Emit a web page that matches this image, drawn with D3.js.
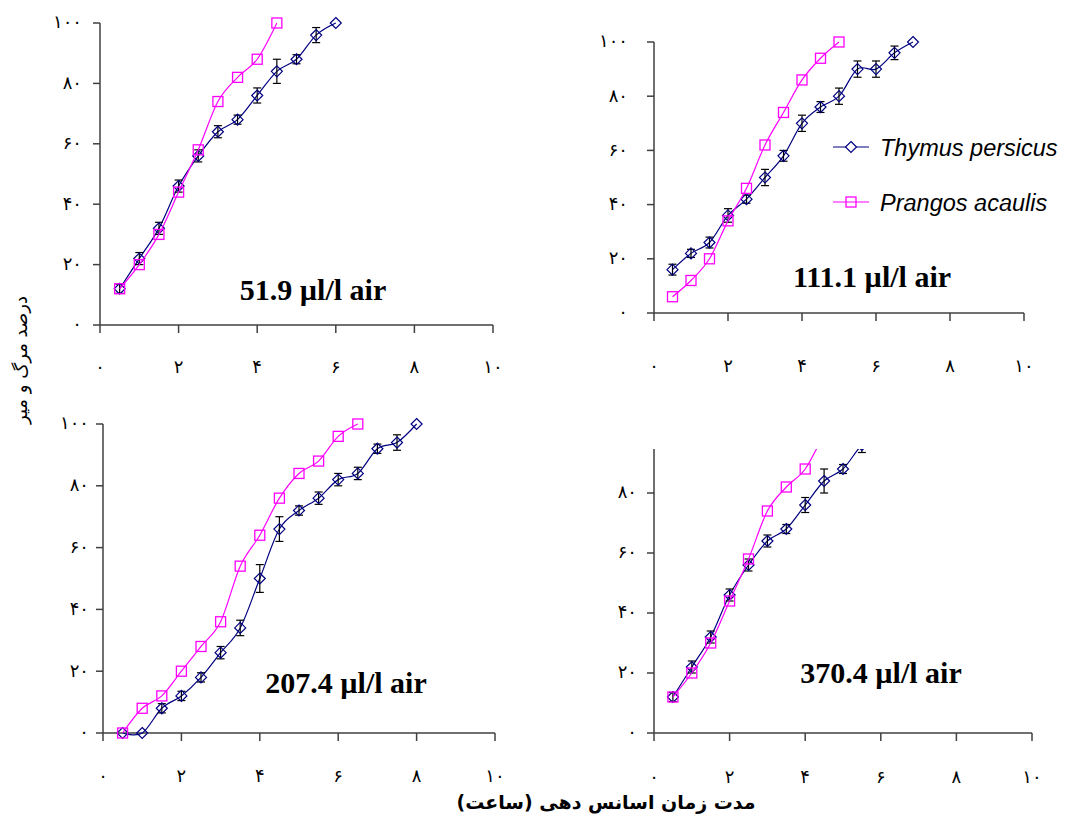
<!DOCTYPE html>
<html>
<head>
<meta charset="utf-8">
<script src="https://cdn.jsdelivr.net/npm/d3@7"></script>
<style>
body { margin: 0; background: #fff; }
svg { display: block; }
</style>
</head>
<body>
<div id="viz"></div>
<script>
// data (hours 0.5, 1, 1.5 ...)
var thymus51 = [12, 22, 32, 46, 56, 64, 68, 76, 84, 88, 96, 100];
var thymus51Err = [1.5, 2, 2, 2, 2, 2, 1.5, 2.5, 4, 1.5, 2.5, 0];
var prangos51 = [12, 20, 30, 44, 58, 74, 82, 88, 100];

var thymus111 = [16, 22, 26, 36, 42, 50, 58, 70, 76, 80, 90, 90, 96, 100];
var thymus111Err = [2, 1.5, 2, 2.5, 1.5, 3, 2, 3, 2, 3, 3, 3, 2.5, 0];
var prangos111 = [6, 12, 20, 34, 46, 62, 74, 86, 94, 100];

var thymus207 = [0, 0, 8, 12, 18, 26, 34, 50, 66, 72, 76, 82, 84, 92, 94, 100];
var thymus207Err = [0, 0, 1.5, 1.5, 1.5, 2, 2.5, 4.5, 4, 1.5, 2, 2, 2, 1.5, 2.5, 0];
var prangos207 = [0, 8, 12, 20, 28, 36, 54, 64, 76, 84, 88, 96, 100];

var thymus370 = [12, 22, 32, 46, 56, 64, 68, 76, 84, 88, 96, 100];
var thymus370Err = [1.5, 2, 2, 2, 2, 2, 1.5, 2.5, 4, 1.5, 2.5, 0];
var prangos370 = [12, 20, 30, 44, 58, 74, 82, 88, 100];

var xTicks = [0, 2, 4, 6, 8, 10];
var yTicks = [0, 20, 40, 60, 80, 100];
var seriesNames = ["Thymus persicus", "Prangos acaulis"];
var panelTitles = ["51.9 µl/l air", "111.1 µl/l air", "207.4 µl/l air", "370.4 µl/l air"];

var thymusColor = "#000080", prangosColor = "#ff00ff";

var svg = d3.select("#viz")
        .append("svg")
        .attr("width", 1085)
        .attr("height", 819);

function fa(n) {
    return String(n).replace(/[0-9]/g, function(c) { return "۰۱۲۳۴۵۶۷۸۹"[+c]; });
}
function withTime(vals, errs) {
    return vals.map(function(v, i) { return {t: 0.5 * (i + 1), v: v, e: errs ? errs[i] : 0}; });
}

var panels = [
    {left: 100, right: 493, top: 23, bottom: 325, clipTop: 8, axisTop: 23, labelY: 368, ylab: 18,
     thymus: withTime(thymus51, thymus51Err), prangos: withTime(prangos51), tx: 313, ty: 300},
    {left: 654, right: 1024, top: 42, bottom: 313, clipTop: 27, axisTop: 42, labelY: 367, ylab: 26,
     thymus: withTime(thymus111, thymus111Err), prangos: withTime(prangos111), tx: 872, ty: 287},
    {left: 103, right: 495, top: 424, bottom: 733, clipTop: 409, axisTop: 424, labelY: 777, ylab: 14,
     thymus: withTime(thymus207, thymus207Err), prangos: withTime(prangos207), tx: 346, ty: 693},
    {left: 654, right: 1032, top: 433, bottom: 733, clipTop: 449, axisTop: 449, labelY: 778, ylab: 17,
     thymus: withTime(thymus370, thymus370Err), prangos: withTime(prangos370), tx: 881, ty: 683}
];

var line = d3.line().curve(d3.curveCatmullRom.alpha(0));

panels.forEach(function(p, k) {
    var x = d3.scaleLinear().domain([0, 10]).range([p.left, p.right]);
    var y = d3.scaleLinear().domain([0, 100]).range([p.bottom, p.top]);
    var g = svg.append("g");
    var ax = "#404040";

    // y axis
    g.append("line").attr("x1", p.left).attr("x2", p.left)
        .attr("y1", p.axisTop).attr("y2", p.bottom)
        .attr("stroke", ax).attr("stroke-width", 1.5);
    var yt = yTicks.filter(function(d) { return y(d) >= p.axisTop - 0.5; });
    g.selectAll(".yt").data(yt).enter().append("line")
        .attr("x1", p.left - 7).attr("x2", p.left)
        .attr("y1", function(d) { return y(d); }).attr("y2", function(d) { return y(d); })
        .attr("stroke", ax).attr("stroke-width", 1.5);
    g.selectAll(".yl").data(yt).enter().append("text")
        .attr("x", p.left - p.ylab).attr("y", function(d) { return y(d); })
        .attr("dy", "0.3em").attr("text-anchor", "end")
        .style("font-family", "DejaVu Sans").style("font-size", "18px")
        .style("letter-spacing", "2px")
        .text(function(d) { return fa(d); });

    // x axis
    g.append("line").attr("x1", p.left).attr("x2", p.right)
        .attr("y1", p.bottom).attr("y2", p.bottom)
        .attr("stroke", ax).attr("stroke-width", 1.5);
    g.selectAll(".xt").data(xTicks).enter().append("line")
        .attr("x1", function(d) { return x(d); }).attr("x2", function(d) { return x(d); })
        .attr("y1", p.bottom).attr("y2", p.bottom + 8)
        .attr("stroke", ax).attr("stroke-width", 1.5);
    g.selectAll(".xl").data(xTicks).enter().append("text")
        .attr("x", function(d) { return x(d); }).attr("y", p.labelY)
        .attr("dy", "0.3em").attr("text-anchor", "middle")
        .style("font-family", "DejaVu Sans").style("font-size", "18px")
        .style("letter-spacing", "2px")
        .text(function(d) { return fa(d); });

    var clipId = "clip" + k;
    svg.append("clipPath").attr("id", clipId).append("rect")
        .attr("x", p.left - 10).attr("y", p.clipTop)
        .attr("width", p.right - p.left + 20).attr("height", p.bottom - p.clipTop + 20);
    var plot = g.append("g").attr("clip-path", "url(#" + clipId + ")");

    // Thymus: line, error bars, diamonds
    plot.append("path")
        .attr("d", line(p.thymus.map(function(d) { return [x(d.t), y(d.v)]; })))
        .attr("fill", "none").attr("stroke", thymusColor).attr("stroke-width", 1.2);
    var eb = plot.selectAll(".eb").data(p.thymus.filter(function(d) { return d.e > 0; }))
        .enter().append("g");
    eb.append("line")
        .attr("x1", function(d) { return x(d.t); }).attr("x2", function(d) { return x(d.t); })
        .attr("y1", function(d) { return y(d.v - d.e); }).attr("y2", function(d) { return y(d.v + d.e); })
        .attr("stroke", "#000").attr("stroke-width", 1.2);
    [-1, 1].forEach(function(s) {
        eb.append("line")
            .attr("x1", function(d) { return x(d.t) - 4; }).attr("x2", function(d) { return x(d.t) + 4; })
            .attr("y1", function(d) { return y(d.v + s * d.e); }).attr("y2", function(d) { return y(d.v + s * d.e); })
            .attr("stroke", "#000").attr("stroke-width", 1.2);
    });
    plot.selectAll(".dm").data(p.thymus).enter().append("path")
        .attr("d", function(d) {
            var cx = x(d.t), cy = y(d.v), r = 5.5;
            return "M" + cx + "," + (cy - r) + "L" + (cx + r) + "," + cy + "L" + cx + "," + (cy + r) + "L" + (cx - r) + "," + cy + "Z";
        })
        .attr("fill", "none").attr("stroke", thymusColor).attr("stroke-width", 1.2);

    // Prangos: line, squares
    plot.append("path")
        .attr("d", line(p.prangos.map(function(d) { return [x(d.t), y(d.v)]; })))
        .attr("fill", "none").attr("stroke", prangosColor).attr("stroke-width", 1.2);
    plot.selectAll(".sq").data(p.prangos).enter().append("rect")
        .attr("x", function(d) { return x(d.t) - 5; }).attr("y", function(d) { return y(d.v) - 5; })
        .attr("width", 10).attr("height", 10)
        .attr("fill", "none").attr("stroke", prangosColor).attr("stroke-width", 1.3);

    g.append("text").attr("x", p.tx).attr("y", p.ty).attr("text-anchor", "middle")
        .style("font-family", "Liberation Serif").style("font-weight", "bold")
        .style("font-size", "30px")
        .text(panelTitles[k]);
});

// legend (top right panel)
var leg = svg.append("g");
[thymusColor, prangosColor].forEach(function(c, i) {
    var ly = 147 + i * 55;
    leg.append("line").attr("x1", 833).attr("x2", 869).attr("y1", ly).attr("y2", ly)
        .attr("stroke", c).attr("stroke-width", 1.2);
    if (i == 0) {
        leg.append("path").attr("d", "M851," + (ly - 5.5) + "L856.5," + ly + "L851," + (ly + 5.5) + "L845.5," + ly + "Z")
            .attr("fill", "#fff").attr("stroke", c).attr("stroke-width", 1.2);
    } else {
        leg.append("rect").attr("x", 846).attr("y", ly - 5).attr("width", 10).attr("height", 10)
            .attr("fill", "none").attr("stroke", c).attr("stroke-width", 1.3);
    }
    leg.append("text").attr("x", 880).attr("y", ly + 9)
        .style("font-family", "Liberation Sans").style("font-style", "italic")
        .style("font-size", "23.5px")
        .text(seriesNames[i]);
});

// axis titles
svg.append("text")
    .attr("transform", "translate(27,360) rotate(-90)")
    .attr("text-anchor", "middle")
    .style("font-family", "DejaVu Sans").style("font-size", "18px")
    .style("letter-spacing", "1px")
    .text("درصد مرگ و میر");

svg.append("text")
    .attr("x", 606).attr("y", 809).attr("text-anchor", "middle")
    .attr("direction", "rtl")
    .style("font-family", "DejaVu Sans").style("font-weight", "bold").style("font-size", "19px")
    .text("مدت زمان اسانس دهی (ساعت)");
</script>
</body>
</html>
